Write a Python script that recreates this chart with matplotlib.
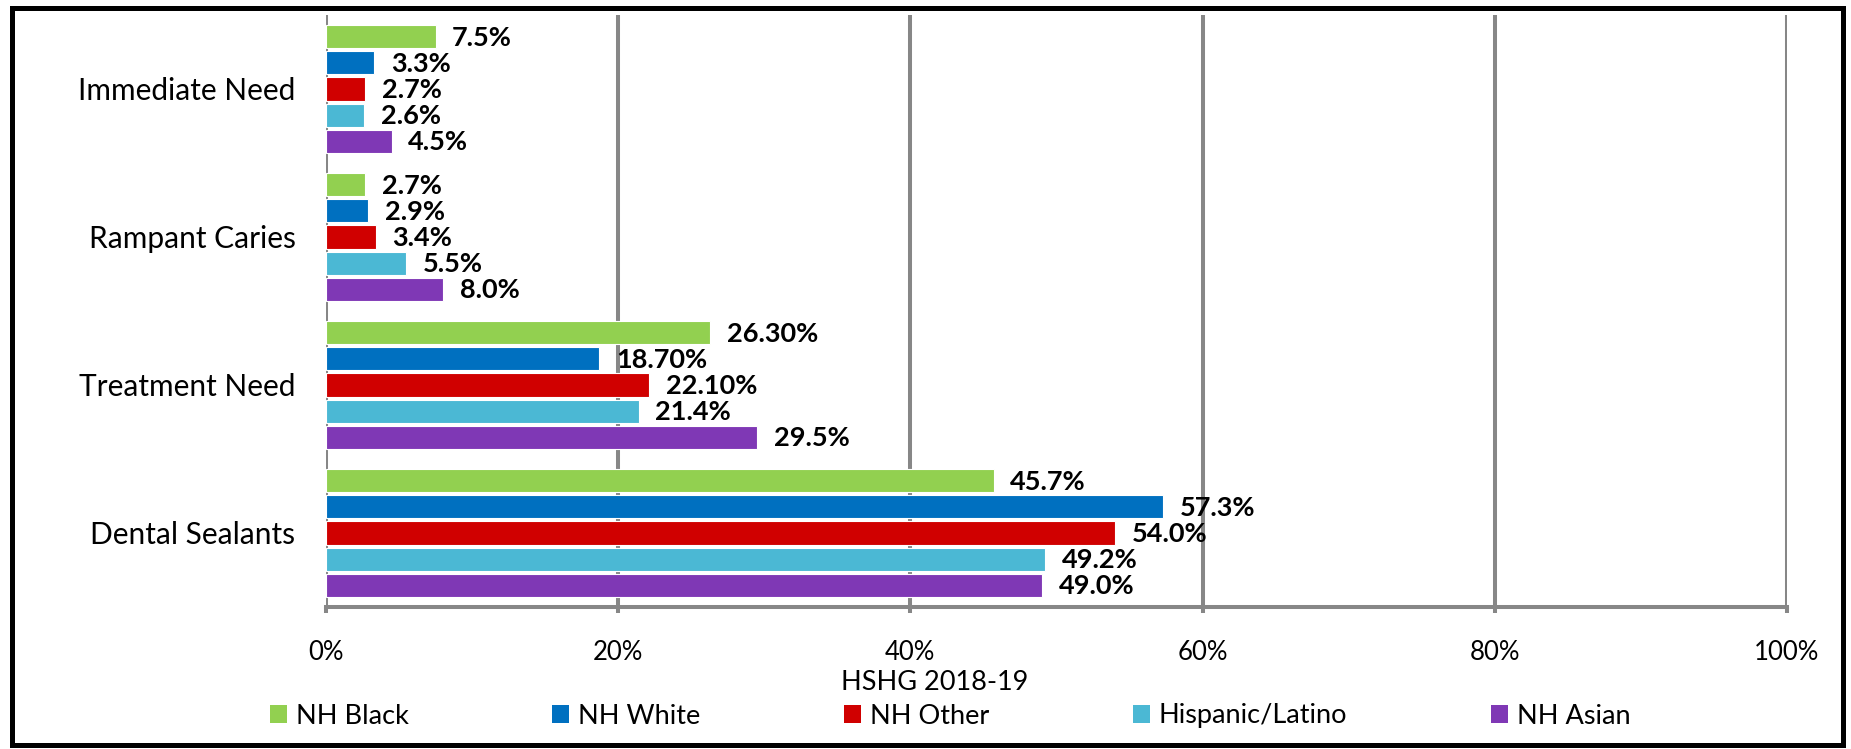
import matplotlib
matplotlib.use("Agg")
import matplotlib.pyplot as plt
from matplotlib.patches import Rectangle, Patch

plt.rcParams["font.family"] = ["Lato", "DejaVu Sans"]

# Data
categories = ["Immediate Need", "Rampant Caries", "Treatment Need", "Dental Sealants"]
series_names = ["NH Black", "NH White", "NH Other", "Hispanic/Latino", "NH Asian"]
series_colors = ["#92D050", "#0070C0", "#D00000", "#4BB8D4", "#7F38B5"]

nh_black = [7.5, 2.7, 26.30, 45.7]
nh_white = [3.3, 2.9, 18.70, 57.3]
nh_other = [2.7, 3.4, 22.10, 54.0]
hispanic_latino = [2.6, 5.5, 21.4, 49.2]
nh_asian = [4.5, 8.0, 29.5, 49.0]

nh_black_labels = ["7.5%", "2.7%", "26.30%", "45.7%"]
nh_white_labels = ["3.3%", "2.9%", "18.70%", "57.3%"]
nh_other_labels = ["2.7%", "3.4%", "22.10%", "54.0%"]
hispanic_latino_labels = ["2.6%", "5.5%", "21.4%", "49.2%"]
nh_asian_labels = ["4.5%", "8.0%", "29.5%", "49.0%"]

x_ticks = [0, 20, 40, 60, 80, 100]
x_tick_labels = ["0%", "20%", "40%", "60%", "80%", "100%"]
x_title = "HSHG 2018-19"

series_values = [nh_black, nh_white, nh_other, hispanic_latino, nh_asian]
series_labels = [nh_black_labels, nh_white_labels, nh_other_labels,
                 hispanic_latino_labels, nh_asian_labels]

W, H = 1851, 749
fig = plt.figure(figsize=(W / 100, H / 100), dpi=100)
fig.patch.set_facecolor("white")

left, right, top, bottom = 326, 1787, 15, 607
ax = fig.add_axes([left / W, 1 - bottom / H, (right - left) / W, (bottom - top) / H])

grid_color = "#878787"
step = 0.176
bar_h = 0.156
n = len(series_names)
for j, (name, vals, labs, col) in enumerate(zip(series_names, series_values,
                                                series_labels, series_colors)):
    ys = [i + (j - (n - 1) / 2) * step for i in range(len(categories))]
    ax.barh(ys, vals, height=bar_h, color=col, edgecolor="white",
            linewidth=0.8, label=name, zorder=3)
    for y, v, t in zip(ys, vals, labs):
        ax.annotate(t, xy=(v, y), xytext=(12, -1), textcoords="offset points",
                    ha="left", va="center", fontsize=19.5, fontweight="bold",
                    color="black", zorder=4)

ax.set_xlim(0, 100)
ax.set_ylim(3.5, -0.5)
ax.set_xticks(x_ticks)
ax.set_xticklabels(x_tick_labels, fontsize=18.5)
ax.set_yticks(range(len(categories)))
ax.set_yticklabels(categories, fontsize=21.5)

ax.xaxis.grid(True, color=grid_color, linewidth=2.9, zorder=1)
ax.set_axisbelow(True)
for s in ["top", "right", "left"]:
    ax.spines[s].set_visible(False)
ax.spines["bottom"].set_color(grid_color)
ax.spines["bottom"].set_linewidth(2.9)
ax.tick_params(axis="x", length=4, width=2.9, color=grid_color, pad=19.5,
               labelcolor="black")
ax.tick_params(axis="y", length=0, pad=22, labelcolor="black")

fig.text(935 / W, 1 - 682 / H, x_title, ha="center", va="center", fontsize=19.5)

handles = [Patch(facecolor=c, edgecolor="none") for c in series_colors]
fig.legend(handles, series_names, loc="center", ncol=5,
           bbox_to_anchor=(950 / W, 1 - 716 / H), frameon=False, fontsize=19.5,
           handlelength=0.63, handleheight=0.63, handletextpad=0.33,
           columnspacing=5.3, borderpad=0, borderaxespad=0)

# Outer frame around the whole figure
fig.patches.append(Rectangle((12 / W, 1 - 745 / H), (1843 - 12) / W, (745 - 8) / H,
                             transform=fig.transFigure, fill=False,
                             edgecolor="black", linewidth=3.6, zorder=10))

fig.savefig("out.png", dpi=100)
